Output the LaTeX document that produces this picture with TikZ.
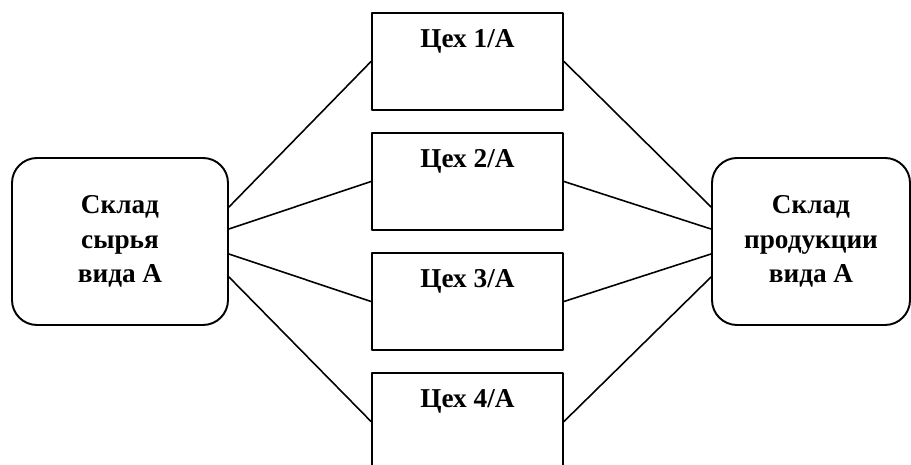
\documentclass[tikz,border=0pt]{standalone}
\usepackage{fontspec}
\setmainfont{Liberation Serif}
\begin{document}
\begin{tikzpicture}[line join=round, line cap=round, font=\fontsize{15.5}{19.8}\selectfont\bfseries,
	sklad/.style={draw, line width=1.1pt, rounded corners=0.5cm, align=center, minimum height=3.34cm},
	tsekh/.style={draw, line width=1.1pt, minimum width=3.82cm, minimum height=1.94cm},
	svyaz/.style={line width=0.9pt}]
	\def\xmax{18.22} \def\ymax{9.30}
	\useasboundingbox (0,0) rectangle (\xmax,\ymax);
	\node[sklad, minimum width=4.32cm] (syrye) at (2.40,4.47) {Склад\\сырья\\вида А};
	\node[sklad, minimum width=3.96cm] (produkt) at (16.22,4.47) {Склад\\продукции\\вида А};
	\foreach \i/\y in {1/8.07,2/5.67,3/3.27,4/0.87}
		\node[tsekh, label={[anchor=base,yshift=-0.71cm]north:Цех \i/А}] (tsekh\i) at (9.35,\y) {};
	%\draw[color=gray!50,dashed] (0,0) grid (\xmax,\ymax);
	\foreach \i/\d in {1/0.69,2/0.25,3/-0.25,4/-0.71}{
		\draw[svyaz] ([yshift=\d cm]syrye.east) -- (tsekh\i.west);
		\draw[svyaz] (tsekh\i.east) -- ([yshift=\d cm]produkt.west);
	}
\end{tikzpicture}
\end{document}
